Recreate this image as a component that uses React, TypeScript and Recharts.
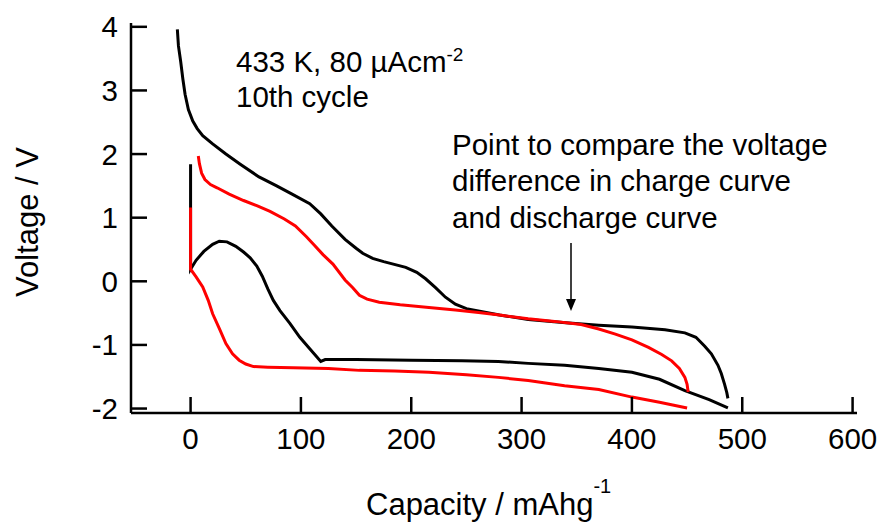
import React from "react";
import { LineChart, Line, XAxis, YAxis, Customized } from "recharts";

// Capacity (mAh/g) and voltage (V)
const blackUpperCap = [-12, -11, -9, -7, -5, -2, 2, 6, 11, 20, 32, 45, 62, 78, 92, 108, 118, 128, 140, 150, 156, 165, 175, 195, 205, 213, 222, 231, 240, 250, 262, 280, 306, 340, 370, 400, 430, 448, 458, 466, 472, 478, 481, 484, 486, 487];
const blackUpperV = [3.96, 3.7, 3.46, 3.18, 2.94, 2.7, 2.52, 2.4, 2.29, 2.16, 2.0, 1.84, 1.64, 1.5, 1.37, 1.22, 1.06, 0.87, 0.66, 0.52, 0.44, 0.36, 0.31, 0.22, 0.14, 0.04, -0.1, -0.25, -0.36, -0.43, -0.47, -0.53, -0.6, -0.65, -0.69, -0.72, -0.76, -0.81, -0.88, -1.02, -1.14, -1.32, -1.45, -1.62, -1.75, -1.84];

const blackLowerCap = [0, 0, 5, 12, 20, 26, 33, 41, 48, 54, 60, 65, 70, 75, 81, 90, 99, 108, 118, 122, 150, 200, 246, 279, 306, 339, 370, 400, 425, 448, 470, 487];
const blackLowerV = [1.84, 0.19, 0.33, 0.47, 0.58, 0.63, 0.62, 0.55, 0.46, 0.37, 0.24, 0.08, -0.12, -0.3, -0.46, -0.66, -0.88, -1.06, -1.26, -1.23, -1.23, -1.24, -1.25, -1.26, -1.29, -1.32, -1.37, -1.43, -1.54, -1.72, -1.86, -1.99];

const redUpperCap = [7, 8, 10, 13, 18, 24, 35, 48, 60, 72, 85, 95, 105, 112, 120, 129, 140, 147, 153, 160, 171, 190, 216, 240, 261, 280, 306, 330, 354, 370, 385, 400, 415, 427, 436, 443, 448, 450, 451];
const redUpperV = [1.97, 1.85, 1.7, 1.6, 1.52, 1.47, 1.37, 1.27, 1.19, 1.1, 0.98, 0.87, 0.7, 0.57, 0.42, 0.27, 0.02, -0.1, -0.22, -0.28, -0.33, -0.37, -0.41, -0.45, -0.49, -0.53, -0.59, -0.63, -0.68, -0.75, -0.83, -0.92, -1.04, -1.15, -1.25, -1.37, -1.51, -1.62, -1.74];

const redLowerCap = [0, 0, 5, 11, 16, 20, 26, 32, 38, 44, 50, 57, 70, 93, 125, 153, 185, 216, 250, 279, 306, 339, 370, 400, 425, 450];
const redLowerV = [1.16, 0.19, 0.07, -0.09, -0.3, -0.51, -0.74, -0.98, -1.14, -1.24, -1.3, -1.34, -1.35, -1.36, -1.37, -1.4, -1.41, -1.43, -1.47, -1.51, -1.56, -1.64, -1.7, -1.82, -1.9, -1.99];

const capTicks = [0, 100, 200, 300, 400, 500, 600];
const voltTicks = [-2, -1, 0, 1, 2, 3, 4];

const zip = (c: number[], v: number[]) => c.map((x, i) => ({ c: x, v: v[i] }));

const FONT = "'Liberation Sans', Arial, sans-serif";

const Annotations = () => (
  <g fontFamily={FONT} fill="#000">
    <text x={236} y={72} fontSize={29.5}>
      433 K, 80 µAcm<tspan dy={-11} fontSize={19}>-2</tspan>
    </text>
    <text x={236} y={107} fontSize={29.5}>10th cycle</text>
    <text x={452} y={155} fontSize={29.5}>Point to compare the voltage</text>
    <text x={452} y={191} fontSize={29.5}>difference in charge curve</text>
    <text x={452} y={228} fontSize={29.5}>and discharge curve</text>
    <line x1={571} y1={243} x2={571} y2={302} stroke="#000" strokeWidth={1.5} />
    <polygon points="566,299 576,299 571,311" fill="#000" />
    <text x={366} y={515} fontSize={31}>
      Capacity / mAhg<tspan dy={-22} fontSize={20}>-1</tspan>
    </text>
    <text x={38} y={222} fontSize={31} textAnchor="middle" transform="rotate(-90 38 222)">
      Voltage / V
    </text>
  </g>
);

export default function App() {
  const tickStyle = { fill: "#000", fontSize: 29.5, fontFamily: FONT };
  const axisLine = { stroke: "#000", strokeWidth: 2.5 };
  return (
    <div style={{ position: "absolute", left: 0, top: 0, background: "#fff" }}>
      <LineChart width={879} height={526} margin={{ top: 23, right: 22, left: 0, bottom: 0 }}>
        <XAxis
          xAxisId="main"
          type="number"
          dataKey="c"
          domain={[-54, 604]}
          ticks={capTicks}
          interval={0}
          allowDataOverflow
          height={113}
          tickSize={-16}
          tickMargin={31}
          axisLine={axisLine}
          tickLine={axisLine}
          tick={tickStyle}
        />
        <XAxis
          xAxisId="top"
          orientation="top"
          type="number"
          domain={[-54, 604]}
          height={0}
          tick={false}
          tickLine={false}
          axisLine={axisLine}
        />
        <YAxis
          yAxisId="main"
          type="number"
          domain={[-2.07, 4.06]}
          ticks={voltTicks}
          interval={0}
          allowDataOverflow
          width={131}
          tickSize={-16}
          tickMargin={29}
          axisLine={axisLine}
          tickLine={axisLine}
          tick={tickStyle}
        />
        <YAxis
          yAxisId="right"
          orientation="right"
          type="number"
          domain={[-2.07, 4.06]}
          width={0}
          tick={false}
          tickLine={false}
          axisLine={axisLine}
        />
        <Line xAxisId="main" yAxisId="main" data={zip(blackUpperCap, blackUpperV)} dataKey="v" stroke="#000" strokeWidth={3} dot={false} isAnimationActive={false} type="linear" />
        <Line xAxisId="main" yAxisId="main" data={zip(blackLowerCap, blackLowerV)} dataKey="v" stroke="#000" strokeWidth={3} dot={false} isAnimationActive={false} type="linear" />
        <Line xAxisId="main" yAxisId="main" data={zip(redUpperCap, redUpperV)} dataKey="v" stroke="#ff0000" strokeWidth={3} dot={false} isAnimationActive={false} type="linear" />
        <Line xAxisId="main" yAxisId="main" data={zip(redLowerCap, redLowerV)} dataKey="v" stroke="#ff0000" strokeWidth={3} dot={false} isAnimationActive={false} type="linear" />
        <Customized component={Annotations} />
      </LineChart>
    </div>
  );
}
